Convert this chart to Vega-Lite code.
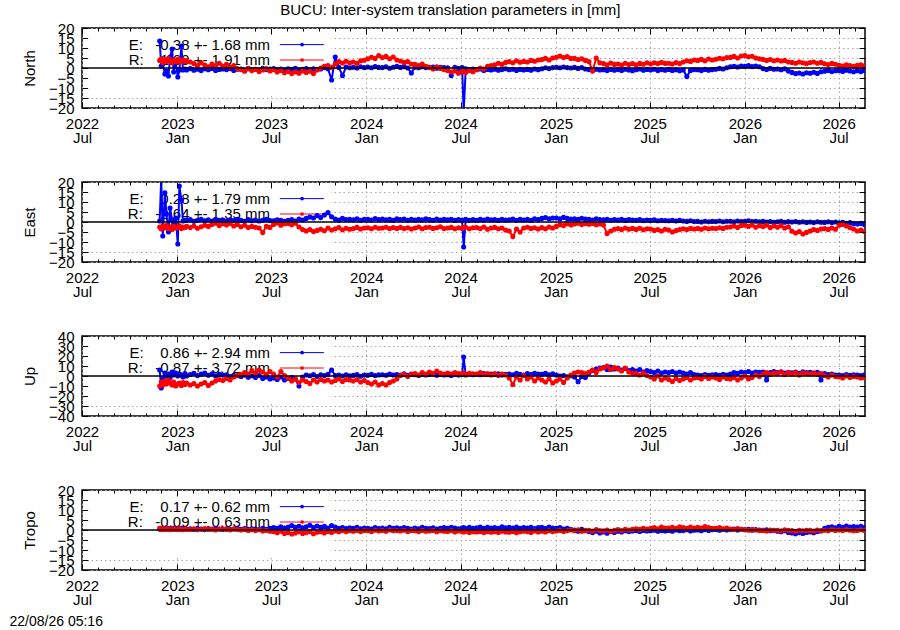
{
  "$schema": "https://vega.github.io/schema/vega-lite/v6.json",
  "padding": {"left": 8, "top": 3, "right": 5, "bottom": 3},
  "bounds": "flush",
  "spacing": 74,
  "title": {"text": "BUCU: Inter-system translation parameters in [mm]", "anchor": "middle", "offset": 2, "dx": 13, "fontSize": 15, "fontWeight": "normal", "font": "Liberation Sans", "color": "black"},
  "datasets": {
    "ts": [
      {"d":"2022-11-28","nE":13.5,"nR":3.8,"eE":0.5,"eR":-2.5,"uE":6,"uR":-10,"tE":0.5,"tR":0.8},
      {"d":"2022-12-01","nE":1,"nR":4.5,"eE":22,"eR":-3.5,"uE":-12,"uR":-6,"tE":0.2,"tR":0.3},
      {"d":"2022-12-04","nE":2,"nR":2.8,"eE":-7,"eR":-2,"uE":-3,"uR":-9,"tE":0.8,"tR":0.6},
      {"d":"2022-12-08","nE":-3,"nR":4.2,"eE":14.6,"eR":-3,"uE":3,"uR":-5,"tE":0.4,"tR":0.2},
      {"d":"2022-12-11","nE":-1.5,"nR":3.2,"eE":4,"eR":-1.8,"uE":0,"uR":-8,"tE":1.0,"tR":0.7},
      {"d":"2022-12-15","nE":-4,"nR":4.8,"eE":-5,"eR":-3.2,"uE":2,"uR":-4,"tE":0.3,"tR":0.4},
      {"d":"2022-12-18","nE":5.5,"nR":3.5,"eE":7,"eR":-2.4,"uE":-2,"uR":-7,"tE":0.7,"tR":0.1},
      {"d":"2022-12-22","nE":9.5,"nR":2.6,"eE":1,"eR":-3.8,"uE":4,"uR":-9,"tE":0.5,"tR":0.6},
      {"d":"2022-12-25","nE":-2,"nR":4.0,"eE":-1,"eR":-2.2,"uE":1,"uR":-6,"tE":0.9,"tR":0.3},
      {"d":"2022-12-29","nE":3,"nR":3.3,"eE":2,"eR":-3,"uE":3,"uR":-10,"tE":0.4,"tR":0.5},
      {"d":"2023-01-02","nE":-4.5,"nR":4.4,"eE":-11,"eR":-2.6,"uE":0,"uR":-8,"tE":0.6,"tR":0.2},
      {"d":"2023-01-05","nE":-1,"nR":2.9,"eE":18,"eR":-1.9,"uE":2,"uR":-7,"tE":0.3,"tR":0.6},
      {"d":"2023-01-09","nE":11,"nR":3.6,"eE":11,"eR":-3.3,"uE":1,"uR":-9.5,"tE":0.8,"tR":0.4},
      {"d":"2023-01-12","nE":-1,"nR":4.1,"eE":0.5,"eR":-2.5,"uE":-1,"uR":-6.5,"tE":0.5,"tR":0.1},
      {"d":"2023-01-16","nE":-0.5,"nR":3.0,"eE":1,"eR":-2.8,"uE":2.5,"uR":-8.5,"tE":0.7,"tR":0.5},
      {"d":"2023-01-19","nE":-1,"nR":3.7,"eE":0.8,"eR":-2.2,"uE":0,"uR":-7,"tE":0.4,"tR":0.3},
      {"d":"2023-01-26","nE":-0.3,"nR":3.0,"eE":1.2,"eR":-2.8,"uE":1.5,"uR":-9,"tE":0.6,"tR":0.2},
      {"d":"2023-02-02","nE":-1.1,"nR":2.2,"eE":0.4,"eR":-2.0,"uE":2.8,"uR":-7.5,"tE":0.3,"tR":0.6},
      {"d":"2023-02-09","nE":-0.6,"nR":1.2,"eE":0.9,"eR":-3.1,"uE":0.4,"uR":-10,"tE":0.9,"tR":0.1},
      {"d":"2023-02-16","nE":-1.3,"nR":2.6,"eE":1.4,"eR":-2.4,"uE":1.9,"uR":-8,"tE":0.5,"tR":0.4},
      {"d":"2023-02-23","nE":-0.4,"nR":1.5,"eE":0.6,"eR":-1.6,"uE":3.0,"uR":-6.5,"tE":0.2,"tR":0.7},
      {"d":"2023-03-02","nE":-0.9,"nR":0.6,"eE":1.1,"eR":-2.2,"uE":0.8,"uR":-9.5,"tE":0.7,"tR":0.3},
      {"d":"2023-03-09","nE":-0.2,"nR":2.0,"eE":0.3,"eR":-1.2,"uE":2.2,"uR":-7,"tE":0.4,"tR":0.5},
      {"d":"2023-03-16","nE":-1.2,"nR":1.1,"eE":1.3,"eR":-0.6,"uE":0.1,"uR":-5,"tE":0.8,"tR":0.0},
      {"d":"2023-03-23","nE":-0.7,"nR":2.4,"eE":0.8,"eR":-1.8,"uE":1.6,"uR":-3.5,"tE":0.5,"tR":0.4},
      {"d":"2023-03-30","nE":-0.5,"nR":0.9,"eE":1.0,"eR":-0.9,"uE":0.9,"uR":-4.5,"tE":0.3,"tR":0.6},
      {"d":"2023-04-06","nE":-0.8,"nR":1.8,"eE":0.5,"eR":-1.5,"uE":1.2,"uR":-2.5,"tE":0.6,"tR":0.3},
      {"d":"2023-04-13","nE":-0.3,"nR":0.5,"eE":1.1,"eR":-0.7,"uE":-0.5,"uR":-4,"tE":0.2,"tR":0.1},
      {"d":"2023-04-20","nE":-1.2,"nR":1.2,"eE":0.7,"eR":-2.0,"uE":0.8,"uR":-1,"tE":0.5,"tR":0.5},
      {"d":"2023-04-27","nE":-0.6,"nR":-0.3,"eE":1.3,"eR":-1.2,"uE":0.2,"uR":0.5,"tE":0.8,"tR":0.2},
      {"d":"2023-05-04","nE":-0.5,"nR":-0.8,"eE":0.9,"eR":-2.4,"uE":-0.5,"uR":1.5,"tE":0.4,"tR":0.0},
      {"d":"2023-05-11","nE":-1.1,"nR":-1.6,"eE":0.4,"eR":-1.6,"uE":0.9,"uR":3.5,"tE":0.7,"tR":0.3},
      {"d":"2023-05-18","nE":-0.4,"nR":-0.2,"eE":1.2,"eR":-2.8,"uE":-1.2,"uR":2.0,"tE":0.3,"tR":-0.2},
      {"d":"2023-05-25","nE":-0.9,"nR":-1.3,"eE":0.6,"eR":-2.2,"uE":0.3,"uR":5.5,"tE":0.6,"tR":0.1},
      {"d":"2023-06-01","nE":-0.6,"nR":-0.7,"eE":1.0,"eR":-2.6,"uE":-1.5,"uR":3.0,"tE":0.5,"tR":-0.3},
      {"d":"2023-06-08","nE":-1.0,"nR":-1.8,"eE":0.5,"eR":-3.0,"uE":0.5,"uR":6.0,"tE":0.2,"tR":0.1},
      {"d":"2023-06-15","nE":-0.2,"nR":-1.0,"eE":0.8,"eR":-5.3,"uE":-2.5,"uR":4.0,"tE":0.8,"tR":-0.5},
      {"d":"2023-06-22","nE":-0.8,"nR":-0.3,"eE":1.3,"eR":-2.2,"uE":-1.0,"uR":1.5,"tE":0.4,"tR":-0.2},
      {"d":"2023-06-29","nE":-0.5,"nR":-1.5,"eE":0.7,"eR":-2.7,"uE":-3.0,"uR":4.5,"tE":0.9,"tR":-0.6},
      {"d":"2023-07-06","nE":-0.3,"nR":-0.9,"eE":0.6,"eR":-1.2,"uE":-2.0,"uR":2.0,"tE":1.2,"tR":-0.8},
      {"d":"2023-07-13","nE":-0.9,"nR":-2.0,"eE":1.1,"eR":-0.5,"uE":-3.5,"uR":-1.0,"tE":0.8,"tR":-1.4},
      {"d":"2023-07-20","nE":-0.5,"nR":-1.2,"eE":0.9,"eR":-1.6,"uE":-1.0,"uR":4.5,"tE":1.6,"tR":-0.6},
      {"d":"2023-07-27","nE":-1.2,"nR":-2.4,"eE":0.4,"eR":-0.9,"uE":-4.0,"uR":0.5,"tE":1.0,"tR":-1.8},
      {"d":"2023-08-03","nE":-0.4,"nR":-1.8,"eE":0.8,"eR":-0.8,"uE":-2.5,"uR":-2.0,"tE":1.5,"tR":-1.2},
      {"d":"2023-08-10","nE":-0.8,"nR":-2.8,"eE":1.2,"eR":-1.4,"uE":-1.5,"uR":-5.0,"tE":2.2,"tR":-2.0},
      {"d":"2023-08-17","nE":-0.2,"nR":-2.0,"eE":0.5,"eR":-0.6,"uE":-3.0,"uR":-3.0,"tE":1.3,"tR":-1.5},
      {"d":"2023-08-24","nE":-1.0,"nR":-2.6,"eE":1.5,"eR":-2.5,"uE":-10,"uR":-6.5,"tE":1.9,"tR":-0.9},
      {"d":"2023-08-31","nE":-0.6,"nR":-1.5,"eE":1.0,"eR":-3.8,"uE":-1.0,"uR":-4.0,"tE":1.1,"tR":-1.7},
      {"d":"2023-09-07","nE":-0.3,"nR":-2.2,"eE":1.8,"eR":-4.5,"uE":1.0,"uR":-5.5,"tE":1.6,"tR":-1.3},
      {"d":"2023-09-14","nE":-0.9,"nR":-1.6,"eE":2.5,"eR":-3.8,"uE":0.2,"uR":-7.5,"tE":2.4,"tR":-0.8},
      {"d":"2023-09-21","nE":-0.4,"nR":-2.8,"eE":2.0,"eR":-4.8,"uE":1.5,"uR":-4.0,"tE":1.2,"tR":-1.9},
      {"d":"2023-09-28","nE":-0.7,"nR":-1.0,"eE":3.2,"eR":-4.2,"uE":-0.5,"uR":-6.0,"tE":2.0,"tR":-1.1},
      {"d":"2023-10-05","nE":-0.5,"nR":0.0,"eE":2.2,"eR":-3.6,"uE":1.2,"uR":-3.5,"tE":1.3,"tR":-0.9},
      {"d":"2023-10-12","nE":0.2,"nR":0.8,"eE":3.5,"eR":-4.4,"uE":0.5,"uR":-5.0,"tE":1.8,"tR":-1.5},
      {"d":"2023-10-19","nE":-0.4,"nR":1.2,"eE":4.7,"eR":-3.0,"uE":1.8,"uR":-4.0,"tE":1.0,"tR":-0.7},
      {"d":"2023-10-26","nE":-6.0,"nR":0.3,"eE":2.6,"eR":-4.0,"uE":6.0,"uR":-6.0,"tE":2.2,"tR":-1.2},
      {"d":"2023-11-02","nE":5.5,"nR":2.0,"eE":1.5,"eR":-3.4,"uE":0.5,"uR":-4.5,"tE":1.5,"tR":-0.5},
      {"d":"2023-11-09","nE":0.3,"nR":3.2,"eE":1.0,"eR":-2.8,"uE":1.0,"uR":-3.0,"tE":0.9,"tR":-0.9},
      {"d":"2023-11-16","nE":-3.8,"nR":2.5,"eE":1.8,"eR":-3.9,"uE":0.0,"uR":-5.5,"tE":1.2,"tR":-0.3},
      {"d":"2023-11-23","nE":0.5,"nR":3.4,"eE":1.2,"eR":-3.1,"uE":1.2,"uR":-3.5,"tE":0.7,"tR":-0.8},
      {"d":"2023-11-30","nE":0.1,"nR":2.6,"eE":1.4,"eR":-3.6,"uE":0.3,"uR":-4.0,"tE":1.1,"tR":-0.4},
      {"d":"2023-12-07","nE":0.4,"nR":3.0,"eE":1.1,"eR":-3.3,"uE":0.6,"uR":-5.0,"tE":0.8,"tR":-0.6},
      {"d":"2023-12-14","nE":0.0,"nR":2.4,"eE":1.6,"eR":-2.7,"uE":1.4,"uR":-3.5,"tE":1.3,"tR":-0.2},
      {"d":"2023-12-21","nE":0.6,"nR":3.6,"eE":0.9,"eR":-3.5,"uE":-0.2,"uR":-6.0,"tE":0.6,"tR":-0.8},
      {"d":"2023-12-28","nE":0.2,"nR":3.9,"eE":1.3,"eR":-3.0,"uE":0.9,"uR":-4.5,"tE":1.0,"tR":-0.3},
      {"d":"2024-01-04","nE":0.5,"nR":4.6,"eE":1.4,"eR":-2.9,"uE":0.8,"uR":-6.5,"tE":0.9,"tR":-0.4},
      {"d":"2024-01-11","nE":0.1,"nR":5.4,"eE":1.0,"eR":-3.4,"uE":1.6,"uR":-8.0,"tE":0.5,"tR":-0.7},
      {"d":"2024-01-18","nE":0.7,"nR":4.8,"eE":1.7,"eR":-2.6,"uE":0.4,"uR":-6.0,"tE":1.2,"tR":-0.1},
      {"d":"2024-01-25","nE":0.3,"nR":6.2,"eE":1.2,"eR":-3.1,"uE":1.1,"uR":-9.0,"tE":0.7,"tR":-0.5},
      {"d":"2024-02-01","nE":0.2,"nR":5.2,"eE":1.5,"eR":-3.0,"uE":1.3,"uR":-7.5,"tE":1.0,"tR":-0.2},
      {"d":"2024-02-08","nE":0.6,"nR":5.8,"eE":1.1,"eR":-2.6,"uE":0.7,"uR":-9.0,"tE":0.6,"tR":-0.6},
      {"d":"2024-02-15","nE":-0.1,"nR":4.6,"eE":1.3,"eR":-3.3,"uE":2.0,"uR":-6.5,"tE":1.3,"tR":0.0},
      {"d":"2024-02-22","nE":0.4,"nR":5.5,"eE":0.8,"eR":-2.8,"uE":1.0,"uR":-5.0,"tE":0.8,"tR":-0.4},
      {"d":"2024-02-29","nE":0.8,"nR":4.0,"eE":1.6,"eR":-3.2,"uE":1.5,"uR":-3.0,"tE":1.1,"tR":-0.3},
      {"d":"2024-03-07","nE":0.3,"nR":3.5,"eE":1.2,"eR":-2.7,"uE":1.0,"uR":0.5,"tE":0.7,"tR":-0.5},
      {"d":"2024-03-14","nE":0.7,"nR":2.8,"eE":1.5,"eR":-3.3,"uE":2.2,"uR":1.5,"tE":1.2,"tR":-0.1},
      {"d":"2024-03-21","nE":0.0,"nR":3.2,"eE":0.9,"eR":-2.9,"uE":0.8,"uR":-0.5,"tE":0.9,"tR":-0.7},
      {"d":"2024-03-28","nE":-2.5,"nR":2.0,"eE":1.3,"eR":-3.5,"uE":1.6,"uR":2.0,"tE":0.5,"tR":-0.3},
      {"d":"2024-04-04","nE":0.4,"nR":1.8,"eE":1.0,"eR":-3.0,"uE":1.4,"uR":2.5,"tE":1.0,"tR":-0.4},
      {"d":"2024-04-11","nE":0.1,"nR":1.2,"eE":1.4,"eR":-2.5,"uE":0.6,"uR":1.0,"tE":0.6,"tR":-0.8},
      {"d":"2024-04-18","nE":0.6,"nR":2.0,"eE":1.1,"eR":-3.4,"uE":1.8,"uR":3.5,"tE":1.3,"tR":-0.2},
      {"d":"2024-04-25","nE":0.2,"nR":0.9,"eE":1.6,"eR":-2.8,"uE":1.0,"uR":2.0,"tE":0.8,"tR":-0.6},
      {"d":"2024-05-02","nE":0.3,"nR":0.3,"eE":1.2,"eR":-2.6,"uE":1.5,"uR":4.0,"tE":0.7,"tR":-0.5},
      {"d":"2024-05-09","nE":0.5,"nR":-0.5,"eE":0.9,"eR":-3.2,"uE":2.0,"uR":2.5,"tE":1.1,"tR":-0.2},
      {"d":"2024-05-16","nE":-0.1,"nR":0.6,"eE":1.5,"eR":-2.9,"uE":0.8,"uR":5.0,"tE":0.5,"tR":-0.9},
      {"d":"2024-05-23","nE":0.4,"nR":-0.2,"eE":1.0,"eR":-2.4,"uE":1.6,"uR":3.0,"tE":0.9,"tR":-0.4},
      {"d":"2024-05-30","nE":0.2,"nR":-0.8,"eE":1.3,"eR":-3.3,"uE":1.1,"uR":2.0,"tE":1.2,"tR":-0.6},
      {"d":"2024-06-06","nE":0.1,"nR":-1.2,"eE":1.1,"eR":-3.0,"uE":1.2,"uR":3.0,"tE":0.8,"tR":-0.7},
      {"d":"2024-06-13","nE":-3.8,"nR":-2.0,"eE":1.4,"eR":-2.7,"uE":0.6,"uR":2.0,"tE":1.3,"tR":-0.3},
      {"d":"2024-06-20","nE":0.3,"nR":-1.5,"eE":0.8,"eR":-3.4,"uE":1.7,"uR":3.5,"tE":1.0,"tR":-1.0},
      {"d":"2024-06-27","nE":-0.2,"nR":-2.6,"eE":1.2,"eR":-2.9,"uE":1.0,"uR":2.5,"tE":0.6,"tR":-0.5},
      {"d":"2024-07-04","nE":0.2,"nR":-1.5,"eE":1.0,"eR":-3.2,"uE":1.5,"uR":2.5,"tE":1.0,"tR":-0.8},
      {"d":"2024-07-07","nE":-22,"nR":-1.8,"eE":-12.5,"eR":-2.8,"uE":19,"uR":3.0,"tE":1.2,"tR":-1.0},
      {"d":"2024-07-11","nE":-0.4,"nR":-2.2,"eE":1.3,"eR":-2.6,"uE":1.0,"uR":1.5,"tE":0.7,"tR":-0.6},
      {"d":"2024-07-18","nE":-0.8,"nR":-1.3,"eE":0.9,"eR":-3.4,"uE":2.0,"uR":2.8,"tE":1.3,"tR":-1.2},
      {"d":"2024-07-25","nE":-0.5,"nR":-1.9,"eE":1.2,"eR":-2.9,"uE":1.3,"uR":2.2,"tE":0.9,"tR":-0.9},
      {"d":"2024-08-01","nE":-0.9,"nR":-0.8,"eE":0.9,"eR":-2.8,"uE":1.8,"uR":2.0,"tE":1.1,"tR":-1.0},
      {"d":"2024-08-08","nE":-0.5,"nR":0.0,"eE":1.3,"eR":-3.3,"uE":1.2,"uR":3.5,"tE":1.5,"tR":-0.7},
      {"d":"2024-08-15","nE":-1.2,"nR":-0.5,"eE":1.0,"eR":-2.5,"uE":2.4,"uR":1.5,"tE":0.8,"tR":-1.3},
      {"d":"2024-08-22","nE":-0.7,"nR":0.8,"eE":1.5,"eR":-3.6,"uE":1.5,"uR":2.5,"tE":1.3,"tR":-0.8},
      {"d":"2024-08-29","nE":-1.0,"nR":1.2,"eE":1.1,"eR":-3.0,"uE":2.0,"uR":1.0,"tE":1.0,"tR":-1.1},
      {"d":"2024-09-05","nE":-0.6,"nR":1.6,"eE":1.2,"eR":-2.7,"uE":1.5,"uR":2.5,"tE":1.2,"tR":-0.9},
      {"d":"2024-09-12","nE":-1.1,"nR":2.4,"eE":0.8,"eR":-3.4,"uE":2.2,"uR":0.5,"tE":0.9,"tR":-1.2},
      {"d":"2024-09-19","nE":-0.8,"nR":1.8,"eE":1.4,"eR":-3.0,"uE":1.0,"uR":2.0,"tE":1.6,"tR":-0.6},
      {"d":"2024-09-26","nE":-0.4,"nR":2.8,"eE":1.0,"eR":-4.0,"uE":1.8,"uR":1.0,"tE":1.1,"tR":-1.0},
      {"d":"2024-10-03","nE":-0.9,"nR":3.2,"eE":1.1,"eR":-4.5,"uE":2.0,"uR":-2.0,"tE":1.3,"tR":-1.1},
      {"d":"2024-10-10","nE":-0.6,"nR":2.6,"eE":1.5,"eR":-7.3,"uE":1.2,"uR":-8.5,"tE":1.0,"tR":-0.7},
      {"d":"2024-10-17","nE":-1.2,"nR":3.6,"eE":0.9,"eR":-3.5,"uE":2.6,"uR":-1.0,"tE":1.5,"tR":-1.4},
      {"d":"2024-10-24","nE":-0.7,"nR":2.9,"eE":1.3,"eR":-5.0,"uE":1.6,"uR":-4.0,"tE":0.8,"tR":-0.9},
      {"d":"2024-10-31","nE":-1.0,"nR":3.3,"eE":1.0,"eR":-3.0,"uE":1.0,"uR":0.5,"tE":1.2,"tR":-0.6},
      {"d":"2024-11-07","nE":-0.7,"nR":3.0,"eE":1.3,"eR":-2.6,"uE":2.4,"uR":-3.0,"tE":1.0,"tR":-0.8},
      {"d":"2024-11-14","nE":-1.1,"nR":3.8,"eE":0.9,"eR":-3.2,"uE":1.5,"uR":-1.0,"tE":1.4,"tR":-1.2},
      {"d":"2024-11-21","nE":-0.5,"nR":3.4,"eE":1.6,"eR":-2.9,"uE":2.8,"uR":-5.0,"tE":0.7,"tR":-0.5},
      {"d":"2024-11-28","nE":-0.9,"nR":4.0,"eE":1.2,"eR":-3.5,"uE":2.0,"uR":-2.0,"tE":1.2,"tR":-1.0},
      {"d":"2024-12-05","nE":-0.4,"nR":4.2,"eE":1.8,"eR":-2.8,"uE":1.8,"uR":-4.0,"tE":1.3,"tR":-0.6},
      {"d":"2024-12-12","nE":0.1,"nR":4.8,"eE":2.2,"eR":-3.4,"uE":2.6,"uR":-6.0,"tE":0.9,"tR":-1.0},
      {"d":"2024-12-19","nE":-0.3,"nR":4.0,"eE":1.6,"eR":-2.5,"uE":1.2,"uR":-3.0,"tE":1.5,"tR":-0.4},
      {"d":"2024-12-26","nE":0.2,"nR":5.0,"eE":2.0,"eR":-3.0,"uE":2.2,"uR":-7.0,"tE":1.0,"tR":-0.8},
      {"d":"2025-01-02","nE":0.4,"nR":5.4,"eE":2.0,"eR":-2.2,"uE":1.0,"uR":-5.0,"tE":0.8,"tR":-0.5},
      {"d":"2025-01-09","nE":0.1,"nR":6.0,"eE":1.6,"eR":-1.4,"uE":0.0,"uR":-3.0,"tE":1.2,"tR":-0.2},
      {"d":"2025-01-16","nE":0.5,"nR":5.2,"eE":2.3,"eR":-1.8,"uE":0.5,"uR":-6.5,"tE":0.5,"tR":-0.7},
      {"d":"2025-01-23","nE":0.2,"nR":5.7,"eE":1.8,"eR":-0.9,"uE":-0.8,"uR":-2.0,"tE":0.9,"tR":-0.3},
      {"d":"2025-01-30","nE":0.0,"nR":4.8,"eE":1.5,"eR":-1.5,"uE":0.2,"uR":1.0,"tE":0.4,"tR":0.0},
      {"d":"2025-02-06","nE":0.3,"nR":4.8,"eE":1.6,"eR":-1.0,"uE":-1.0,"uR":3.0,"tE":0.0,"tR":-0.4},
      {"d":"2025-02-13","nE":-0.2,"nR":4.2,"eE":1.3,"eR":-0.6,"uE":-5.7,"uR":4.0,"tE":-0.6,"tR":0.1},
      {"d":"2025-02-20","nE":0.2,"nR":4.6,"eE":1.9,"eR":-1.3,"uE":-0.5,"uR":3.5,"tE":0.3,"tR":-0.6},
      {"d":"2025-02-27","nE":-0.5,"nR":3.8,"eE":1.5,"eR":-0.8,"uE":-1.5,"uR":2.5,"tE":-0.4,"tR":-0.2},
      {"d":"2025-03-06","nE":-0.8,"nR":3.2,"eE":1.4,"eR":-1.1,"uE":3.0,"uR":4.0,"tE":-0.8,"tR":-0.1},
      {"d":"2025-03-13","nE":-1.2,"nR":-1.5,"eE":1.0,"eR":-0.7,"uE":5.5,"uR":6.0,"tE":-1.3,"tR":-0.5},
      {"d":"2025-03-20","nE":-0.6,"nR":5.0,"eE":1.6,"eR":-1.4,"uE":7.0,"uR":3.5,"tE":-0.6,"tR":0.2},
      {"d":"2025-03-27","nE":-1.0,"nR":2.6,"eE":1.2,"eR":-1.0,"uE":8.0,"uR":7.0,"tE":-1.5,"tR":-0.3},
      {"d":"2025-04-03","nE":-0.9,"nR":2.2,"eE":1.1,"eR":-1.5,"uE":8.5,"uR":8.0,"tE":-1.0,"tR":-0.4},
      {"d":"2025-04-10","nE":-1.3,"nR":1.6,"eE":1.4,"eR":-5.8,"uE":6.5,"uR":10.0,"tE":-1.6,"tR":0.0},
      {"d":"2025-04-17","nE":-0.7,"nR":2.5,"eE":0.9,"eR":-4.5,"uE":9.0,"uR":6.5,"tE":-0.7,"tR":-0.6},
      {"d":"2025-04-24","nE":-1.1,"nR":1.8,"eE":1.2,"eR":-3.6,"uE":7.0,"uR":8.5,"tE":-1.2,"tR":-0.2},
      {"d":"2025-05-01","nE":-0.8,"nR":2.0,"eE":1.0,"eR":-3.3,"uE":8.0,"uR":7.0,"tE":-0.6,"tR":0.2},
      {"d":"2025-05-08","nE":-1.2,"nR":1.5,"eE":1.3,"eR":-3.8,"uE":6.0,"uR":5.0,"tE":-1.0,"tR":-0.3},
      {"d":"2025-05-15","nE":-0.6,"nR":2.4,"eE":0.8,"eR":-3.0,"uE":7.5,"uR":8.0,"tE":-0.4,"tR":0.4},
      {"d":"2025-05-22","nE":-1.0,"nR":1.7,"eE":1.2,"eR":-3.6,"uE":5.5,"uR":4.0,"tE":-0.8,"tR":0.0},
      {"d":"2025-05-29","nE":-1.4,"nR":2.2,"eE":1.0,"eR":-3.2,"uE":6.5,"uR":3.0,"tE":-0.5,"tR":0.3},
      {"d":"2025-06-05","nE":-0.9,"nR":1.6,"eE":0.9,"eR":-3.7,"uE":5.0,"uR":2.5,"tE":-0.3,"tR":0.6},
      {"d":"2025-06-12","nE":-0.5,"nR":2.3,"eE":1.2,"eR":-3.1,"uE":6.5,"uR":1.0,"tE":-0.7,"tR":0.3},
      {"d":"2025-06-19","nE":-1.1,"nR":1.9,"eE":0.7,"eR":-3.9,"uE":4.0,"uR":3.0,"tE":-0.2,"tR":0.9},
      {"d":"2025-06-26","nE":-0.7,"nR":2.6,"eE":1.0,"eR":-3.4,"uE":5.5,"uR":0.5,"tE":-0.5,"tR":0.5},
      {"d":"2025-07-03","nE":-1.0,"nR":2.0,"eE":0.8,"eR":-3.5,"uE":4.5,"uR":-1.0,"tE":-0.4,"tR":0.8},
      {"d":"2025-07-10","nE":-0.6,"nR":2.6,"eE":1.1,"eR":-4.2,"uE":3.5,"uR":-3.0,"tE":-0.1,"tR":1.2},
      {"d":"2025-07-17","nE":-1.3,"nR":2.2,"eE":0.6,"eR":-3.8,"uE":5.0,"uR":0.0,"tE":-0.6,"tR":0.6},
      {"d":"2025-07-24","nE":-0.8,"nR":2.8,"eE":0.9,"eR":-4.5,"uE":3.0,"uR":-4.0,"tE":-0.3,"tR":1.5},
      {"d":"2025-07-31","nE":-1.1,"nR":2.3,"eE":0.7,"eR":-3.6,"uE":4.0,"uR":-2.0,"tE":-0.5,"tR":1.0},
      {"d":"2025-08-07","nE":-0.7,"nR":2.4,"eE":0.6,"eR":-4.0,"uE":3.5,"uR":-3.5,"tE":-0.2,"tR":1.0},
      {"d":"2025-08-14","nE":-1.2,"nR":2.0,"eE":0.9,"eR":-5.0,"uE":4.5,"uR":-5.5,"tE":-0.6,"tR":1.4},
      {"d":"2025-08-21","nE":-0.9,"nR":2.7,"eE":0.5,"eR":-4.3,"uE":3.0,"uR":-2.5,"tE":0.0,"tR":0.8},
      {"d":"2025-08-28","nE":-1.4,"nR":2.2,"eE":0.8,"eR":-3.8,"uE":4.0,"uR":-4.5,"tE":-0.4,"tR":1.6},
      {"d":"2025-09-04","nE":-1.0,"nR":3.0,"eE":0.5,"eR":-3.4,"uE":3.0,"uR":-3.0,"tE":-0.3,"tR":1.2},
      {"d":"2025-09-11","nE":-4.3,"nR":3.6,"eE":0.3,"eR":-3.8,"uE":2.0,"uR":-1.5,"tE":0.1,"tR":0.8},
      {"d":"2025-09-18","nE":-1.2,"nR":3.3,"eE":0.6,"eR":-3.2,"uE":3.5,"uR":-4.0,"tE":-0.5,"tR":1.5},
      {"d":"2025-09-25","nE":-0.8,"nR":4.0,"eE":0.2,"eR":-3.5,"uE":1.5,"uR":-2.0,"tE":-0.1,"tR":1.0},
      {"d":"2025-10-02","nE":-0.9,"nR":3.8,"eE":0.3,"eR":-3.2,"uE":1.0,"uR":-1.5,"tE":0.0,"tR":1.4},
      {"d":"2025-10-09","nE":-1.3,"nR":4.3,"eE":0.0,"eR":-3.6,"uE":0.5,"uR":-3.0,"tE":-0.4,"tR":1.0},
      {"d":"2025-10-16","nE":-0.7,"nR":3.6,"eE":0.4,"eR":-3.0,"uE":1.5,"uR":-0.5,"tE":0.2,"tR":1.7},
      {"d":"2025-10-23","nE":-1.1,"nR":4.5,"eE":0.1,"eR":-3.4,"uE":0.8,"uR":-2.5,"tE":-0.2,"tR":1.2},
      {"d":"2025-10-30","nE":-0.8,"nR":4.0,"eE":0.3,"eR":-3.1,"uE":1.2,"uR":-1.0,"tE":0.1,"tR":0.9},
      {"d":"2025-11-06","nE":-0.6,"nR":4.4,"eE":0.2,"eR":-3.3,"uE":1.5,"uR":-2.0,"tE":0.2,"tR":0.8},
      {"d":"2025-11-13","nE":-0.2,"nR":4.9,"eE":0.5,"eR":-2.9,"uE":0.8,"uR":-3.5,"tE":-0.1,"tR":1.2},
      {"d":"2025-11-20","nE":-0.5,"nR":4.6,"eE":0.1,"eR":-3.2,"uE":1.8,"uR":-1.0,"tE":0.3,"tR":0.6},
      {"d":"2025-11-27","nE":0.1,"nR":5.2,"eE":0.4,"eR":-2.6,"uE":1.0,"uR":-2.5,"tE":0.0,"tR":1.0},
      {"d":"2025-12-04","nE":0.6,"nR":5.3,"eE":0.4,"eR":-2.5,"uE":2.0,"uR":-3.0,"tE":0.2,"tR":0.5},
      {"d":"2025-12-11","nE":0.9,"nR":5.8,"eE":0.1,"eR":-2.0,"uE":3.5,"uR":-1.5,"tE":0.5,"tR":0.2},
      {"d":"2025-12-18","nE":0.5,"nR":5.0,"eE":0.5,"eR":-2.7,"uE":2.8,"uR":-4.0,"tE":0.0,"tR":0.7},
      {"d":"2025-12-25","nE":1.0,"nR":6.0,"eE":0.2,"eR":-1.8,"uE":4.0,"uR":-2.0,"tE":0.3,"tR":0.3},
      {"d":"2026-01-01","nE":0.8,"nR":6.2,"eE":0.3,"eR":-1.6,"uE":3.5,"uR":0.0,"tE":0.1,"tR":0.2},
      {"d":"2026-01-08","nE":1.2,"nR":5.6,"eE":0.6,"eR":-2.2,"uE":4.5,"uR":-3.0,"tE":0.4,"tR":-0.1},
      {"d":"2026-01-15","nE":0.7,"nR":5.9,"eE":0.2,"eR":-1.5,"uE":3.0,"uR":-1.5,"tE":-0.1,"tR":0.4},
      {"d":"2026-01-22","nE":1.0,"nR":5.0,"eE":0.4,"eR":-2.6,"uE":4.0,"uR":1.0,"tE":0.2,"tR":0.0},
      {"d":"2026-01-29","nE":0.6,"nR":4.6,"eE":0.1,"eR":-1.9,"uE":3.8,"uR":-0.5,"tE":0.0,"tR":-0.3},
      {"d":"2026-02-05","nE":-0.3,"nR":4.3,"eE":0.3,"eR":-2.3,"uE":4.0,"uR":2.0,"tE":-0.2,"tR":-0.2},
      {"d":"2026-02-12","nE":-0.7,"nR":3.8,"eE":0.0,"eR":-1.6,"uE":-4.0,"uR":3.5,"tE":0.1,"tR":-0.5},
      {"d":"2026-02-19","nE":-0.2,"nR":4.2,"eE":0.2,"eR":-2.8,"uE":3.5,"uR":1.5,"tE":-0.4,"tR":0.0},
      {"d":"2026-02-26","nE":-0.6,"nR":3.6,"eE":-0.2,"eR":-2.0,"uE":4.5,"uR":3.0,"tE":-0.1,"tR":-0.3},
      {"d":"2026-03-05","nE":-0.5,"nR":4.0,"eE":0.1,"eR":-2.6,"uE":3.5,"uR":2.5,"tE":-0.6,"tR":-0.1},
      {"d":"2026-03-12","nE":-0.9,"nR":3.5,"eE":0.3,"eR":-1.9,"uE":4.2,"uR":4.0,"tE":-0.9,"tR":-0.4},
      {"d":"2026-03-19","nE":-0.4,"nR":3.8,"eE":-0.1,"eR":-3.0,"uE":3.0,"uR":1.5,"tE":-0.4,"tR":0.1},
      {"d":"2026-03-26","nE":-1.5,"nR":3.0,"eE":0.2,"eR":-2.4,"uE":3.8,"uR":3.5,"tE":-1.2,"tR":-0.2},
      {"d":"2026-04-02","nE":-2.2,"nR":2.8,"eE":0.0,"eR":-4.6,"uE":3.2,"uR":2.0,"tE":-1.5,"tR":-0.3},
      {"d":"2026-04-09","nE":-2.8,"nR":2.4,"eE":0.2,"eR":-5.5,"uE":4.0,"uR":3.5,"tE":-1.9,"tR":-0.6},
      {"d":"2026-04-16","nE":-2.5,"nR":3.0,"eE":-0.1,"eR":-4.8,"uE":2.8,"uR":1.0,"tE":-1.3,"tR":-0.1},
      {"d":"2026-04-23","nE":-3.0,"nR":2.6,"eE":0.1,"eR":-6.0,"uE":4.2,"uR":3.0,"tE":-1.7,"tR":-0.4},
      {"d":"2026-04-30","nE":-2.4,"nR":2.2,"eE":-0.2,"eR":-5.2,"uE":3.5,"uR":2.5,"tE":-1.2,"tR":-0.2},
      {"d":"2026-05-07","nE":-2.6,"nR":2.7,"eE":0.0,"eR":-4.5,"uE":3.8,"uR":2.0,"tE":-1.0,"tR":-0.2},
      {"d":"2026-05-14","nE":-2.1,"nR":3.0,"eE":-0.3,"eR":-3.8,"uE":3.0,"uR":3.0,"tE":-1.4,"tR":-0.5},
      {"d":"2026-05-21","nE":-2.7,"nR":2.4,"eE":0.1,"eR":-4.2,"uE":3.6,"uR":1.5,"tE":-0.8,"tR":0.0},
      {"d":"2026-05-28","nE":-1.9,"nR":2.8,"eE":-0.1,"eR":-3.5,"uE":-4.0,"uR":2.5,"tE":-0.5,"tR":-0.3},
      {"d":"2026-06-04","nE":-1.6,"nR":2.1,"eE":-0.2,"eR":-3.3,"uE":2.5,"uR":0.5,"tE":0.8,"tR":-0.1},
      {"d":"2026-06-11","nE":-1.2,"nR":1.7,"eE":0.1,"eR":-3.7,"uE":1.5,"uR":-1.0,"tE":1.3,"tR":-0.4},
      {"d":"2026-06-18","nE":-1.8,"nR":2.3,"eE":-0.3,"eR":-3.0,"uE":2.0,"uR":1.0,"tE":1.6,"tR":0.2},
      {"d":"2026-06-25","nE":-1.4,"nR":1.9,"eE":0.0,"eR":-3.6,"uE":1.0,"uR":-0.5,"tE":1.1,"tR":-0.2},
      {"d":"2026-07-02","nE":-1.3,"nR":1.4,"eE":-0.4,"eR":-1.6,"uE":1.0,"uR":-1.0,"tE":1.8,"tR":0.0},
      {"d":"2026-07-09","nE":-1.7,"nR":1.0,"eE":-0.1,"eR":-1.2,"uE":0.5,"uR":-2.0,"tE":1.4,"tR":-0.3},
      {"d":"2026-07-16","nE":-1.1,"nR":1.6,"eE":-0.6,"eR":-2.0,"uE":1.5,"uR":0.0,"tE":2.0,"tR":0.2},
      {"d":"2026-07-23","nE":-1.5,"nR":1.2,"eE":-0.3,"eR":-2.8,"uE":0.8,"uR":-1.5,"tE":1.5,"tR":-0.1},
      {"d":"2026-07-30","nE":-1.9,"nR":0.9,"eE":-0.8,"eR":-3.5,"uE":1.2,"uR":-0.5,"tE":1.7,"tR":-0.4},
      {"d":"2026-08-06","nE":-1.4,"nR":1.3,"eE":-1.0,"eR":-4.5,"uE":1.0,"uR":-1.0,"tE":1.5,"tR":-0.2},
      {"d":"2026-08-13","nE":-1.8,"nR":1.6,"eE":-0.7,"eR":-4.0,"uE":0.5,"uR":-2.0,"tE":1.9,"tR":0.1},
      {"d":"2026-08-20","nE":-1.2,"nR":1.1,"eE":-1.2,"eR":-4.8,"uE":1.3,"uR":-1.5,"tE":1.2,"tR":-0.3}
    ]
  },
  "vconcat": [
    {
      "width": 783, "height": 80,
      "resolve": {"axis": {"x": "independent", "y": "independent"}},
      "layer": [
        {"data": {"values": [{}]}, "mark": {"type": "rect", "color": "white"},
         "encoding": {"x": {"datum": {"year": 2022, "month": 7, "date": 13}, "type": "temporal", "axis": null}, "x2": {"datum": {"year": 2023, "month": 10, "date": 25}}, "y": {"datum": 19.4, "type": "quantitative", "axis": null}, "y2": {"datum": -12.5}}},
        {"data": {"values": [{}]}, "mark": {"type": "text"},
         "encoding": {"x": {"datum": {"year": 2023, "month": 6, "date": 29}, "type": "temporal", "axis": null}, "y": {"datum": 11.7, "type": "quantitative", "axis": null}, "text": {"value": "E:\u00a0\u00a0\u00a0-0.38 +- 1.68 mm"}}},
        {"data": {"values": [{}]}, "mark": {"type": "text"},
         "encoding": {"x": {"datum": {"year": 2023, "month": 6, "date": 29}, "type": "temporal", "axis": null}, "y": {"datum": 4.0, "type": "quantitative", "axis": null}, "text": {"value": "R:\u00a0\u00a0\u00a0\u00a01.69 +- 1.91 mm"}}},
        {"data": {"values": [{}]}, "mark": {"type": "rule", "color": "#0000ff", "strokeWidth": 1},
         "encoding": {"x": {"datum": {"year": 2023, "month": 7, "date": 18}, "type": "temporal", "axis": null}, "x2": {"datum": {"year": 2023, "month": 10, "date": 11}}, "y": {"datum": 11.7, "type": "quantitative", "axis": null}}},
        {"data": {"values": [{}]}, "mark": {"type": "rule", "color": "#ff0000", "strokeWidth": 1},
         "encoding": {"x": {"datum": {"year": 2023, "month": 7, "date": 18}, "type": "temporal", "axis": null}, "x2": {"datum": {"year": 2023, "month": 10, "date": 11}}, "y": {"datum": 4.0, "type": "quantitative", "axis": null}}},
        {"data": {"values": [{}]}, "mark": {"type": "point", "filled": true, "size": 14, "opacity": 1, "color": "#0000ff"},
         "encoding": {"x": {"datum": {"year": 2023, "month": 8, "date": 30}, "type": "temporal", "axis": null}, "y": {"datum": 11.7, "type": "quantitative", "axis": null}}},
        {"data": {"values": [{}]}, "mark": {"type": "point", "filled": true, "size": 14, "opacity": 1, "color": "#ff0000"},
         "encoding": {"x": {"datum": {"year": 2023, "month": 8, "date": 30}, "type": "temporal", "axis": null}, "y": {"datum": 4.0, "type": "quantitative", "axis": null}}},
        {"data": {"name": "ts"}, "mark": {"type": "line", "color": "#0000ff", "strokeWidth": 2, "clip": true, "point": {"filled": true, "size": 26, "opacity": 1, "color": "#0000ff", "clip": true}},
         "encoding": {
           "x": {"field": "d", "type": "temporal", "scale": {"domain": [{"year": 2022, "month": 7, "date": 1}, {"year": 2026, "month": 8, "date": 21}], "nice": false},
                 "axis": {"title": null, "tickCount": {"interval": "month", "step": 1}, "grid": true,
                          "gridOpacity": {"condition": {"test": "month(datum.value) % 6 == 0", "value": 1}, "value": 0},
                          "tickSize": {"condition": {"test": "month(datum.value) % 6 == 0", "value": -6}, "value": -3},
                          "labelExpr": "month(datum.value) % 6 == 0 ? [timeFormat(datum.value, '%Y'), timeFormat(datum.value, '%b')] : ''",
                          "labelPadding": 14, "labelLineHeight": 14}},
           "y": {"field": "nE", "type": "quantitative", "scale": {"domain": [-20, 20], "nice": false},
                 "axis": {"title": "North", "values": [-20, -15, -10, -5, 0, 5, 10, 15, 20], "grid": true, "tickSize": -6, "labelPadding": 14, "titlePadding": 11}}}},
        {"data": {"name": "ts"}, "mark": {"type": "line", "color": "#ff0000", "strokeWidth": 2, "clip": true, "point": {"filled": true, "size": 26, "opacity": 1, "color": "#ff0000", "clip": true}},
         "encoding": {
           "x": {"field": "d", "type": "temporal", "scale": {"domain": [{"year": 2022, "month": 7, "date": 1}, {"year": 2026, "month": 8, "date": 21}], "nice": false},
                 "axis": {"orient": "top", "title": null, "labels": false, "grid": false, "zindex": 1, "tickCount": {"interval": "month", "step": 1},
                          "tickSize": {"condition": {"test": "month(datum.value) % 6 == 0", "value": -6}, "value": -3}}},
           "y": {"field": "nR", "type": "quantitative", "scale": {"domain": [-20, 20], "nice": false},
                 "axis": {"orient": "right", "title": null, "labels": false, "grid": false, "zindex": 1, "values": [-20, -15, -10, -5, 0, 5, 10, 15, 20], "tickSize": -6}}}},
        {"data": {"values": [{}]}, "mark": {"type": "rule", "color": "black", "strokeWidth": 1.3},
         "encoding": {"y": {"datum": 0, "type": "quantitative", "axis": null}}}
      ]
    },
    {
      "width": 783, "height": 80,
      "resolve": {"axis": {"x": "independent", "y": "independent"}},
      "layer": [
        {"data": {"values": [{}]}, "mark": {"type": "rect", "color": "white"},
         "encoding": {"x": {"datum": {"year": 2022, "month": 7, "date": 13}, "type": "temporal", "axis": null}, "x2": {"datum": {"year": 2023, "month": 10, "date": 25}}, "y": {"datum": 19.4, "type": "quantitative", "axis": null}, "y2": {"datum": -12.5}}},
        {"data": {"values": [{}]}, "mark": {"type": "text"},
         "encoding": {"x": {"datum": {"year": 2023, "month": 6, "date": 29}, "type": "temporal", "axis": null}, "y": {"datum": 11.7, "type": "quantitative", "axis": null}, "text": {"value": "E:\u00a0\u00a0\u00a0\u00a00.28 +- 1.79 mm"}}},
        {"data": {"values": [{}]}, "mark": {"type": "text"},
         "encoding": {"x": {"datum": {"year": 2023, "month": 6, "date": 29}, "type": "temporal", "axis": null}, "y": {"datum": 4.0, "type": "quantitative", "axis": null}, "text": {"value": "R:\u00a0\u00a0\u00a0-2.64 +- 1.35 mm"}}},
        {"data": {"values": [{}]}, "mark": {"type": "rule", "color": "#0000ff", "strokeWidth": 1},
         "encoding": {"x": {"datum": {"year": 2023, "month": 7, "date": 18}, "type": "temporal", "axis": null}, "x2": {"datum": {"year": 2023, "month": 10, "date": 11}}, "y": {"datum": 11.7, "type": "quantitative", "axis": null}}},
        {"data": {"values": [{}]}, "mark": {"type": "rule", "color": "#ff0000", "strokeWidth": 1},
         "encoding": {"x": {"datum": {"year": 2023, "month": 7, "date": 18}, "type": "temporal", "axis": null}, "x2": {"datum": {"year": 2023, "month": 10, "date": 11}}, "y": {"datum": 4.0, "type": "quantitative", "axis": null}}},
        {"data": {"values": [{}]}, "mark": {"type": "point", "filled": true, "size": 14, "opacity": 1, "color": "#0000ff"},
         "encoding": {"x": {"datum": {"year": 2023, "month": 8, "date": 30}, "type": "temporal", "axis": null}, "y": {"datum": 11.7, "type": "quantitative", "axis": null}}},
        {"data": {"values": [{}]}, "mark": {"type": "point", "filled": true, "size": 14, "opacity": 1, "color": "#ff0000"},
         "encoding": {"x": {"datum": {"year": 2023, "month": 8, "date": 30}, "type": "temporal", "axis": null}, "y": {"datum": 4.0, "type": "quantitative", "axis": null}}},
        {"data": {"name": "ts"}, "mark": {"type": "line", "color": "#0000ff", "strokeWidth": 2, "clip": true, "point": {"filled": true, "size": 26, "opacity": 1, "color": "#0000ff", "clip": true}},
         "encoding": {
           "x": {"field": "d", "type": "temporal", "scale": {"domain": [{"year": 2022, "month": 7, "date": 1}, {"year": 2026, "month": 8, "date": 21}], "nice": false},
                 "axis": {"title": null, "tickCount": {"interval": "month", "step": 1}, "grid": true,
                          "gridOpacity": {"condition": {"test": "month(datum.value) % 6 == 0", "value": 1}, "value": 0},
                          "tickSize": {"condition": {"test": "month(datum.value) % 6 == 0", "value": -6}, "value": -3},
                          "labelExpr": "month(datum.value) % 6 == 0 ? [timeFormat(datum.value, '%Y'), timeFormat(datum.value, '%b')] : ''",
                          "labelPadding": 14, "labelLineHeight": 14}},
           "y": {"field": "eE", "type": "quantitative", "scale": {"domain": [-20, 20], "nice": false},
                 "axis": {"title": "East", "values": [-20, -15, -10, -5, 0, 5, 10, 15, 20], "grid": true, "tickSize": -6, "labelPadding": 14, "titlePadding": 11}}}},
        {"data": {"name": "ts"}, "mark": {"type": "line", "color": "#ff0000", "strokeWidth": 2, "clip": true, "point": {"filled": true, "size": 26, "opacity": 1, "color": "#ff0000", "clip": true}},
         "encoding": {
           "x": {"field": "d", "type": "temporal", "scale": {"domain": [{"year": 2022, "month": 7, "date": 1}, {"year": 2026, "month": 8, "date": 21}], "nice": false},
                 "axis": {"orient": "top", "title": null, "labels": false, "grid": false, "zindex": 1, "tickCount": {"interval": "month", "step": 1},
                          "tickSize": {"condition": {"test": "month(datum.value) % 6 == 0", "value": -6}, "value": -3}}},
           "y": {"field": "eR", "type": "quantitative", "scale": {"domain": [-20, 20], "nice": false},
                 "axis": {"orient": "right", "title": null, "labels": false, "grid": false, "zindex": 1, "values": [-20, -15, -10, -5, 0, 5, 10, 15, 20], "tickSize": -6}}}},
        {"data": {"values": [{}]}, "mark": {"type": "rule", "color": "black", "strokeWidth": 1.3},
         "encoding": {"y": {"datum": 0, "type": "quantitative", "axis": null}}}
      ]
    },
    {
      "width": 783, "height": 80,
      "resolve": {"axis": {"x": "independent", "y": "independent"}},
      "layer": [
        {"data": {"values": [{}]}, "mark": {"type": "rect", "color": "white"},
         "encoding": {"x": {"datum": {"year": 2022, "month": 7, "date": 13}, "type": "temporal", "axis": null}, "x2": {"datum": {"year": 2023, "month": 10, "date": 25}}, "y": {"datum": 38.8, "type": "quantitative", "axis": null}, "y2": {"datum": -25}}},
        {"data": {"values": [{}]}, "mark": {"type": "text"},
         "encoding": {"x": {"datum": {"year": 2023, "month": 6, "date": 29}, "type": "temporal", "axis": null}, "y": {"datum": 23.4, "type": "quantitative", "axis": null}, "text": {"value": "E:\u00a0\u00a0\u00a0\u00a00.86 +- 2.94 mm"}}},
        {"data": {"values": [{}]}, "mark": {"type": "text"},
         "encoding": {"x": {"datum": {"year": 2023, "month": 6, "date": 29}, "type": "temporal", "axis": null}, "y": {"datum": 8.0, "type": "quantitative", "axis": null}, "text": {"value": "R:\u00a0\u00a0\u00a0-0.87 +- 3.72 mm"}}},
        {"data": {"values": [{}]}, "mark": {"type": "rule", "color": "#0000ff", "strokeWidth": 1},
         "encoding": {"x": {"datum": {"year": 2023, "month": 7, "date": 18}, "type": "temporal", "axis": null}, "x2": {"datum": {"year": 2023, "month": 10, "date": 11}}, "y": {"datum": 23.4, "type": "quantitative", "axis": null}}},
        {"data": {"values": [{}]}, "mark": {"type": "rule", "color": "#ff0000", "strokeWidth": 1},
         "encoding": {"x": {"datum": {"year": 2023, "month": 7, "date": 18}, "type": "temporal", "axis": null}, "x2": {"datum": {"year": 2023, "month": 10, "date": 11}}, "y": {"datum": 8.0, "type": "quantitative", "axis": null}}},
        {"data": {"values": [{}]}, "mark": {"type": "point", "filled": true, "size": 14, "opacity": 1, "color": "#0000ff"},
         "encoding": {"x": {"datum": {"year": 2023, "month": 8, "date": 30}, "type": "temporal", "axis": null}, "y": {"datum": 23.4, "type": "quantitative", "axis": null}}},
        {"data": {"values": [{}]}, "mark": {"type": "point", "filled": true, "size": 14, "opacity": 1, "color": "#ff0000"},
         "encoding": {"x": {"datum": {"year": 2023, "month": 8, "date": 30}, "type": "temporal", "axis": null}, "y": {"datum": 8.0, "type": "quantitative", "axis": null}}},
        {"data": {"name": "ts"}, "mark": {"type": "line", "color": "#0000ff", "strokeWidth": 2, "clip": true, "point": {"filled": true, "size": 26, "opacity": 1, "color": "#0000ff", "clip": true}},
         "encoding": {
           "x": {"field": "d", "type": "temporal", "scale": {"domain": [{"year": 2022, "month": 7, "date": 1}, {"year": 2026, "month": 8, "date": 21}], "nice": false},
                 "axis": {"title": null, "tickCount": {"interval": "month", "step": 1}, "grid": true,
                          "gridOpacity": {"condition": {"test": "month(datum.value) % 6 == 0", "value": 1}, "value": 0},
                          "tickSize": {"condition": {"test": "month(datum.value) % 6 == 0", "value": -6}, "value": -3},
                          "labelExpr": "month(datum.value) % 6 == 0 ? [timeFormat(datum.value, '%Y'), timeFormat(datum.value, '%b')] : ''",
                          "labelPadding": 14, "labelLineHeight": 14}},
           "y": {"field": "uE", "type": "quantitative", "scale": {"domain": [-40, 40], "nice": false},
                 "axis": {"title": "Up", "values": [-40, -30, -20, -10, 0, 10, 20, 30, 40], "grid": true, "tickSize": -6, "labelPadding": 14, "titlePadding": 11}}}},
        {"data": {"name": "ts"}, "mark": {"type": "line", "color": "#ff0000", "strokeWidth": 2, "clip": true, "point": {"filled": true, "size": 26, "opacity": 1, "color": "#ff0000", "clip": true}},
         "encoding": {
           "x": {"field": "d", "type": "temporal", "scale": {"domain": [{"year": 2022, "month": 7, "date": 1}, {"year": 2026, "month": 8, "date": 21}], "nice": false},
                 "axis": {"orient": "top", "title": null, "labels": false, "grid": false, "zindex": 1, "tickCount": {"interval": "month", "step": 1},
                          "tickSize": {"condition": {"test": "month(datum.value) % 6 == 0", "value": -6}, "value": -3}}},
           "y": {"field": "uR", "type": "quantitative", "scale": {"domain": [-40, 40], "nice": false},
                 "axis": {"orient": "right", "title": null, "labels": false, "grid": false, "zindex": 1, "values": [-40, -30, -20, -10, 0, 10, 20, 30, 40], "tickSize": -6}}}},
        {"data": {"values": [{}]}, "mark": {"type": "rule", "color": "black", "strokeWidth": 1.3},
         "encoding": {"y": {"datum": 0, "type": "quantitative", "axis": null}}}
      ]
    },
    {
      "width": 783, "height": 80,
      "resolve": {"axis": {"x": "independent", "y": "independent"}},
      "layer": [
        {"data": {"values": [{}]}, "mark": {"type": "rect", "color": "white"},
         "encoding": {"x": {"datum": {"year": 2022, "month": 7, "date": 13}, "type": "temporal", "axis": null}, "x2": {"datum": {"year": 2023, "month": 10, "date": 25}}, "y": {"datum": 19.4, "type": "quantitative", "axis": null}, "y2": {"datum": -12.5}}},
        {"data": {"values": [{}]}, "mark": {"type": "text"},
         "encoding": {"x": {"datum": {"year": 2023, "month": 6, "date": 29}, "type": "temporal", "axis": null}, "y": {"datum": 11.7, "type": "quantitative", "axis": null}, "text": {"value": "E:\u00a0\u00a0\u00a0\u00a00.17 +- 0.62 mm"}}},
        {"data": {"values": [{}]}, "mark": {"type": "text"},
         "encoding": {"x": {"datum": {"year": 2023, "month": 6, "date": 29}, "type": "temporal", "axis": null}, "y": {"datum": 4.0, "type": "quantitative", "axis": null}, "text": {"value": "R:\u00a0\u00a0\u00a0-0.09 +- 0.63 mm"}}},
        {"data": {"values": [{}]}, "mark": {"type": "rule", "color": "#0000ff", "strokeWidth": 1},
         "encoding": {"x": {"datum": {"year": 2023, "month": 7, "date": 18}, "type": "temporal", "axis": null}, "x2": {"datum": {"year": 2023, "month": 10, "date": 11}}, "y": {"datum": 11.7, "type": "quantitative", "axis": null}}},
        {"data": {"values": [{}]}, "mark": {"type": "rule", "color": "#ff0000", "strokeWidth": 1},
         "encoding": {"x": {"datum": {"year": 2023, "month": 7, "date": 18}, "type": "temporal", "axis": null}, "x2": {"datum": {"year": 2023, "month": 10, "date": 11}}, "y": {"datum": 4.0, "type": "quantitative", "axis": null}}},
        {"data": {"values": [{}]}, "mark": {"type": "point", "filled": true, "size": 14, "opacity": 1, "color": "#0000ff"},
         "encoding": {"x": {"datum": {"year": 2023, "month": 8, "date": 30}, "type": "temporal", "axis": null}, "y": {"datum": 11.7, "type": "quantitative", "axis": null}}},
        {"data": {"values": [{}]}, "mark": {"type": "point", "filled": true, "size": 14, "opacity": 1, "color": "#ff0000"},
         "encoding": {"x": {"datum": {"year": 2023, "month": 8, "date": 30}, "type": "temporal", "axis": null}, "y": {"datum": 4.0, "type": "quantitative", "axis": null}}},
        {"data": {"name": "ts"}, "mark": {"type": "line", "color": "#0000ff", "strokeWidth": 2, "clip": true, "point": {"filled": true, "size": 26, "opacity": 1, "color": "#0000ff", "clip": true}},
         "encoding": {
           "x": {"field": "d", "type": "temporal", "scale": {"domain": [{"year": 2022, "month": 7, "date": 1}, {"year": 2026, "month": 8, "date": 21}], "nice": false},
                 "axis": {"title": "22/08/26 05:16", "titleX": -73, "titleY": 44, "titleAlign": "left", "titleAnchor": "start", "titleBaseline": "top", "titleAngle": 0, "titleFontSize": 14,
                          "tickCount": {"interval": "month", "step": 1}, "grid": true,
                          "gridOpacity": {"condition": {"test": "month(datum.value) % 6 == 0", "value": 1}, "value": 0},
                          "tickSize": {"condition": {"test": "month(datum.value) % 6 == 0", "value": -6}, "value": -3},
                          "labelExpr": "month(datum.value) % 6 == 0 ? [timeFormat(datum.value, '%Y'), timeFormat(datum.value, '%b')] : ''",
                          "labelPadding": 14, "labelLineHeight": 14}},
           "y": {"field": "tE", "type": "quantitative", "scale": {"domain": [-20, 20], "nice": false},
                 "axis": {"title": "Tropo", "values": [-20, -15, -10, -5, 0, 5, 10, 15, 20], "grid": true, "tickSize": -6, "labelPadding": 14, "titlePadding": 11}}}},
        {"data": {"name": "ts"}, "mark": {"type": "line", "color": "#ff0000", "strokeWidth": 2, "clip": true, "point": {"filled": true, "size": 26, "opacity": 1, "color": "#ff0000", "clip": true}},
         "encoding": {
           "x": {"field": "d", "type": "temporal", "scale": {"domain": [{"year": 2022, "month": 7, "date": 1}, {"year": 2026, "month": 8, "date": 21}], "nice": false},
                 "axis": {"orient": "top", "title": null, "labels": false, "grid": false, "zindex": 1, "tickCount": {"interval": "month", "step": 1},
                          "tickSize": {"condition": {"test": "month(datum.value) % 6 == 0", "value": -6}, "value": -3}}},
           "y": {"field": "tR", "type": "quantitative", "scale": {"domain": [-20, 20], "nice": false},
                 "axis": {"orient": "right", "title": null, "labels": false, "grid": false, "zindex": 1, "values": [-20, -15, -10, -5, 0, 5, 10, 15, 20], "tickSize": -6}}}},
        {"data": {"values": [{}]}, "mark": {"type": "rule", "color": "black", "strokeWidth": 1.3},
         "encoding": {"y": {"datum": 0, "type": "quantitative", "axis": null}}}
      ]
    }
  ],
  "config": {
    "font": "Liberation Sans",
    "background": "white",
    "view": {"stroke": "black", "strokeWidth": 1.5},
    "axis": {"domain": false, "labelFont": "Liberation Sans", "labelFontSize": 15, "labelColor": "black", "titleFont": "Liberation Sans", "titleFontSize": 15, "titleFontWeight": "normal", "titleColor": "black", "tickColor": "black", "tickWidth": 1, "gridColor": "#a8a8a8", "gridDash": [1.5, 3], "gridWidth": 1, "labelOverlap": false, "labelFlush": false, "labelBound": false},
    "text": {"font": "Liberation Sans", "fontSize": 15, "align": "right", "baseline": "middle", "color": "black"}
  }
}
